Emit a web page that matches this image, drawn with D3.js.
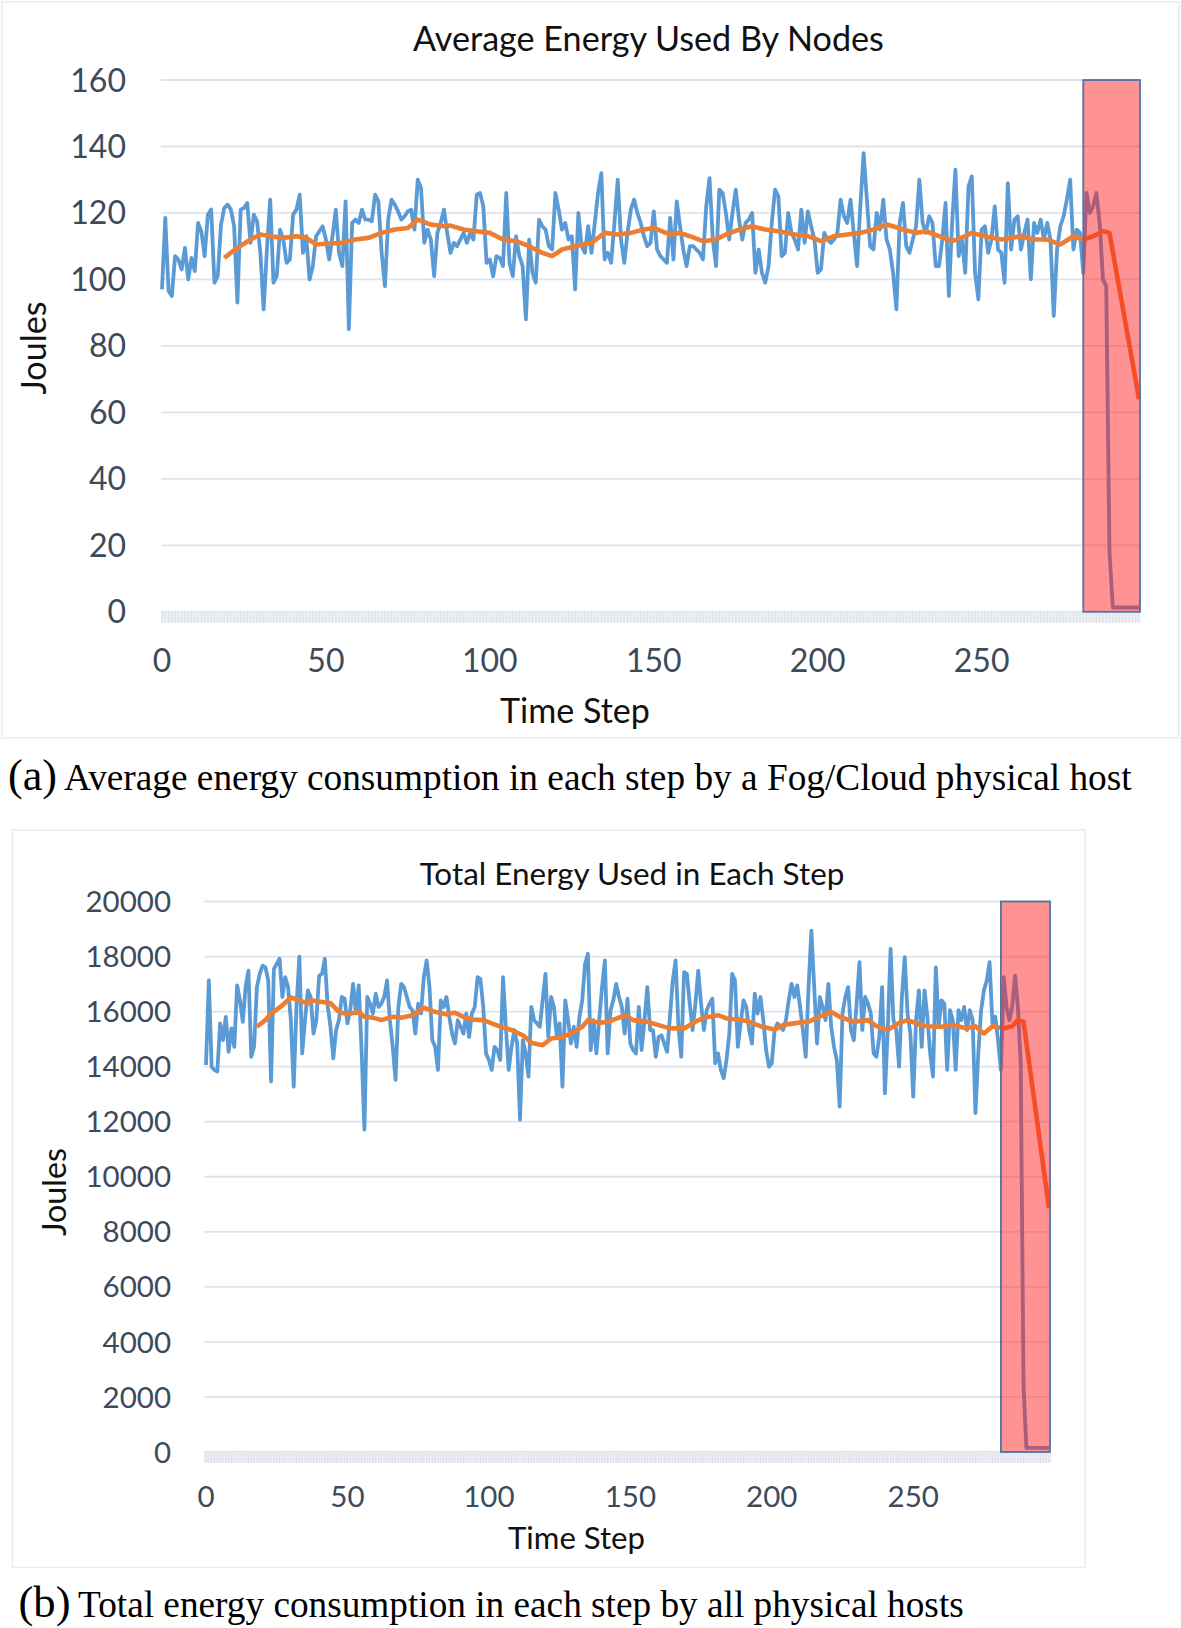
<!DOCTYPE html>
<html><head><meta charset="utf-8">
<script src="https://cdn.jsdelivr.net/npm/d3@7"></script>
<style>body{margin:0;background:#fff}svg{display:block}</style>
</head><body>
<svg id="c" width="1181" height="1628"></svg>
<script>
// ---------- DATA ----------
const titleA = "Average Energy Used By Nodes";
const titleB = "Total Energy Used in Each Step";
const xTitle = "Time Step";
const yTitle = "Joules";
const captionA = ["(a)", "Average energy consumption in each step by a Fog/Cloud physical host"];
const captionB = ["(b)", "Total energy consumption in each step by all physical hosts"];
const xTicks = [0, 50, 100, 150, 200, 250];
const yTicksA = [0, 20, 40, 60, 80, 100, 120, 140, 160];
const yTicksB = [0, 2000, 4000, 6000, 8000, 10000, 12000, 14000, 16000, 18000, 20000];
const highlightSteps = [281, 298];

// (a) average energy per step (Joules), steps 0..298
const avgEnergy = [
97,118.5,96.5,95,107,106,103,109.5,100,106.5,102.5,117,114.5,107,119.5,121,99,101,116.5,121.5,
122.5,121,116,93,121,121.5,123,111,119.5,117.5,108,91,109,124,99,101,115,112,105,106,
119.5,121,125.5,108,113,100,104,113,114.5,116,112,106,113,121,108,104,123.5,85,117,118,
117,121,118,118,117.5,125.5,123.5,108,98,118,124,122.5,120.5,118,119,120.5,121,115,130,127.5,
111,115,112,101,114,117,121,114,108,111,110,112,114,111,114,112,125.5,126,122,105,
106,101,107,106.5,104,126,105,101,113,107,104,88,112,102,99,118,116,115,110,109,
126,121,115,117,112,113,97,120,110,108,116,108,117,126,132,106,108,105,117,130,
112,105,114,121,124,120,117,113,110,
111,120.5,109,107,106,105,118.5,106,123.5,116,
109,104,110,110,109,108,106,122,130.5,112,
104,127,126,120,112,120,127,118,112,117,
118,120,102,109,102,99,104,117,127,125,
107,108,120,114,112,109,121,111,120.5,116,
112,102,103,114,112,111,112,114,124,119,
117,124,114,104,122,138,124,110,109,120,
115,124,112,109,102,91,117,123,110,108,
112,116,130,117,114,119,117,104,104,112,
123,95,117,133,107,112,102,128,131,102,
94,115,116,108,112,122,109,108,99,129,
109,118,119,109,114,118,100,117,114,118,
112,117,112,89,109,116,119,124,130,109,
115,114,102,126,120,122,126,117,100,
98,18,1.3,1.3,1.3,1.3,1.3,1.3,1.3,1.3,1.3
];
// (a) moving-average trendline
const avgTrendSteps = [19,23,27,30,33,37,41,44,47,51,55,59,63,67,71,75,78,82,86,88,92,96,100,104,108,112,116,119,122,126,131,135,139,143,147,150,155,158,161,165,169,172,176,180,184,188,193,197,201,205,209,213,217,221,223,226,230,233,237,241,245,247,251,256,259,262,266,270,274,278,281,284,287,289,298];
const avgTrend = [106.5,109.5,112,113.5,113,112.5,113,112.5,110.5,110.8,111,112,112.5,114,115,115.5,118,116.5,116,116.2,115,114.5,114,112,111.5,110,108,107,109,110,111,114,113.5,114,115,115.5,113.5,114,113,111.5,112,113.5,115,116,115,114.5,113.5,113,111.5,113,113.5,114,115,116.5,116,115,114,114.5,113,111.5,113,114,113,112,112.5,113,112,112,110.5,113,112,113,114.5,114,64];

// (b) total energy per step (Joules), steps 0..298
const totalEnergy = [
14060,17130,14000,13880,13820,15570,14960,15810,14540,15390,14720,16950,16410,15630,16890,17490,14360,14720,16890,17370,
17670,17610,17130,13460,17550,17730,17920,16530,17250,16890,15690,13270,16220,18000,14480,15690,16770,16530,15200,15690,
17310,17370,17920,16220,15450,14300,15330,15690,16530,16470,15570,16050,17010,15930,16950,14600,11710,16530,16290,15930,
16650,16170,16290,16530,17130,15690,14720,13520,16170,17010,16890,16530,16170,16050,15200,16290,15930,17250,17860,16890,
14960,14720,13880,16410,16170,16530,15810,15200,14840,15690,15450,15200,15930,15080,15930,16170,17250,17190,16170,14480,
14240,13880,14720,14600,14240,17250,15450,13880,14720,15330,14840,12070,14960,14480,13640,16170,15690,15570,15450,16410,
17370,15080,16530,16170,15080,15570,13270,16410,15690,14840,15450,14720,15810,16410,17730,18100,14600,15690,14480,15690,
16890,17860,14480,16050,16410,17010,16530,16170,15200,
16470,14840,14600,14480,16170,14600,15690,16890,15330,15330,
14360,15080,15140,14840,14540,15810,17130,17860,15450,14360,
17430,17370,16290,15330,16290,17490,16290,15330,16050,16290,
16470,14120,14480,13880,13580,14240,15200,17370,17130,14720,
15570,16410,16170,15330,14840,16650,15930,16530,15690,14600,
14000,14120,15330,15570,15450,15330,15690,16410,17010,16530,
16950,16170,15330,14360,16890,18940,16890,14840,16530,
16170,15690,17010,15450,14720,14240,12550,15930,16530,16890,
15330,14960,16290,17800,15330,16530,16290,15930,14480,14360,
15080,16890,13030,15330,18280,15690,15330,14000,16530,17980,
15930,15200,12910,15690,16770,14720,16770,15810,14480,13640,
17610,15450,16410,16290,13880,16050,15690,13880,16050,15690,
16170,15330,16050,15690,12310,14480,16050,16770,17130,
17800,15570,15810,14960,13880,17250,16170,15690,16170,17310,
16170,14120,
2400,150,150,150,150,150,150,150,150,150
];
const totalTrendSteps = [18,21,23,27,30,33,36,37,41,44,47,50,54,56,59,62,66,69,73,77,81,85,88,91,94,98,101,105,108,112,115,119,122,126,129,133,135,139,142,146,148,151,156,160,164,169,173,176,181,184,188,191,196,201,204,209,213,216,221,224,229,234,237,241,245,248,252,255,260,264,269,272,275,278,282,285,287,289,298];
const totalTrend = [15450,15690,15930,16230,16510,16410,16290,16410,16350,16310,15990,15900,15990,15810,15780,15690,15810,15780,15870,16140,15990,15900,15960,15810,15710,15690,15570,15420,15330,15140,14870,14780,15020,15080,15200,15450,15690,15590,15630,15780,15870,15690,15630,15510,15390,15390,15630,15780,15870,15750,15710,15660,15470,15350,15510,15590,15630,15780,15990,15810,15630,15690,15470,15330,15590,15690,15540,15470,15450,15510,15390,15470,15200,15470,15390,15470,15690,15630,8860];

// ---------- DRAW ----------
const svg = d3.select("#c");
svg.append("rect").attr("width",1181).attr("height",1628).attr("fill","#fff");
const SANS = "Lato, 'Open Sans', sans-serif";
const SERIF = "'Liberation Serif', 'Times New Roman', serif";

function fit(sel, width){
  const w = sel.node().getComputedTextLength();
  const fs = parseFloat(sel.attr("font-size"));
  sel.attr("font-size", fs * width / w);
  return sel;
}

function panel(cfg){
  const g = svg.append("g");
  g.append("rect").attr("x",cfg.box[0]).attr("y",cfg.box[1])
    .attr("width",cfg.box[2]-cfg.box[0]).attr("height",cfg.box[3]-cfg.box[1])
    .attr("fill","#fff").attr("stroke","#e8eaee").attr("stroke-width",1.5);

  const x = d3.scaleLinear().domain([0, cfg.data.length-1]).range(cfg.xRange);
  const y = d3.scaleLinear().domain(cfg.yDomain).range(cfg.yRange);
  const [pl, pr] = cfg.plotX;

  g.append("g").selectAll("line").data(cfg.yTicks).join("line")
    .attr("x1",pl).attr("x2",pr).attr("y1",d=>y(d)).attr("y2",d=>y(d))
    .attr("stroke","#e0e4ea").attr("stroke-width",1.8);

  const y0 = y(0);
  g.append("rect").attr("x",pl).attr("y",y0).attr("width",pr-pl).attr("height",11).attr("fill","#eceff3");
  g.append("g").selectAll("line").data(d3.range(cfg.data.length)).join("line")
    .attr("x1",d=>x(d)).attr("x2",d=>x(d)).attr("y1",y0).attr("y2",y0+11)
    .attr("stroke","#dde1e8").attr("stroke-width",1);

  g.append("path").datum(cfg.data)
    .attr("d", d3.line().x((d,i)=>x(i)).y(d=>y(d)))
    .attr("fill","none").attr("stroke","#5b9bd5").attr("stroke-width",3.8)
    .attr("stroke-linejoin","round");
  g.append("path").datum(cfg.trendSteps.map((s,i)=>[s,cfg.trend[i]]))
    .attr("d", d3.line().x(d=>x(d[0])).y(d=>y(d[1])))
    .attr("fill","none").attr("stroke","#ed7d31").attr("stroke-width",4.6)
    .attr("stroke-linejoin","round");

  const hx0 = x(highlightSteps[0]), hx1 = x(highlightSteps[1]);
  g.append("rect").attr("x",hx0).attr("y",y(cfg.yDomain[1]))
    .attr("width",hx1-hx0+1).attr("height",y(0)-y(cfg.yDomain[1]))
    .attr("fill","#ff1a1a").attr("fill-opacity",0.47)
    .attr("stroke","#4f74a6").attr("stroke-width",1.8);

  g.append("g").selectAll("text").data(cfg.yTicks).join("text")
    .attr("x",cfg.yLabelX).attr("y",d=>y(d)).attr("dy","0.36em")
    .attr("text-anchor","end").attr("font-family",SANS).attr("font-size",cfg.tickFs)
    .attr("fill","#3c4a5c").text(d=>d);
  g.append("g").selectAll("text").data(xTicks).join("text")
    .attr("x",d=>x(d)).attr("y",cfg.xLabelY)
    .attr("text-anchor","middle").attr("font-family",SANS).attr("font-size",cfg.tickFs)
    .attr("fill","#3c4a5c").text(d=>d);

  fit(g.append("text").attr("x",cfg.title[0]).attr("y",cfg.title[1]).attr("text-anchor","middle")
    .attr("font-family",SANS).attr("font-size",32).attr("fill","#111").text(cfg.titleText), cfg.title[2]);
  fit(g.append("text").attr("x",cfg.xt[0]).attr("y",cfg.xt[1]).attr("text-anchor","middle")
    .attr("font-family",SANS).attr("font-size",32).attr("fill","#111").text(xTitle), cfg.xt[2]);
  fit(g.append("text").attr("transform",`translate(${cfg.yt[0]},${cfg.yt[1]}) rotate(-90)`)
    .attr("dy","0.36em").attr("text-anchor","middle")
    .attr("font-family",SANS).attr("font-size",32).attr("fill","#111").text(yTitle), cfg.yt[2]);

  fit(svg.append("text").attr("x",cfg.cap[0]).attr("y",cfg.cap[2]).attr("font-family",SERIF)
    .attr("font-size",44).attr("fill","#000").text(cfg.capText[0]), cfg.cap[1]-cfg.cap[0]);
  fit(svg.append("text").attr("x",cfg.cap[3]).attr("y",cfg.cap[2]).attr("font-family",SERIF)
    .attr("font-size",35).attr("fill","#000").text(cfg.capText[1]), cfg.cap[4]-cfg.cap[3]);
}

panel({
  box:[2,2,1179,738], data:avgEnergy, trend:avgTrend, trendSteps:avgTrendSteps,
  xRange:[162,1139], yDomain:[0,160], yRange:[611.8,80], plotX:[161,1140], yTicks:yTicksA,
  yLabelX:126, xLabelY:672, tickFs:32,
  title:[648.5,51,471], titleText:titleA, xt:[575,723,150], yt:[34,348,93],
  cap:[8,57,790,64,1132], capText:captionA
});
panel({
  box:[12.5,830,1085,1567.5], data:totalEnergy, trend:totalTrend, trendSteps:totalTrendSteps,
  xRange:[206,1049], yDomain:[0,20000], yRange:[1452,901.5], plotX:[204,1051], yTicks:yTicksB,
  yLabelX:171, xLabelY:1507, tickFs:29.5,
  title:[632,885,425], titleText:titleB, xt:[576.5,1549,137], yt:[54,1192,88],
  cap:[18.5,70.5,1617,78,964], capText:captionB
});
</script>
</body></html>
